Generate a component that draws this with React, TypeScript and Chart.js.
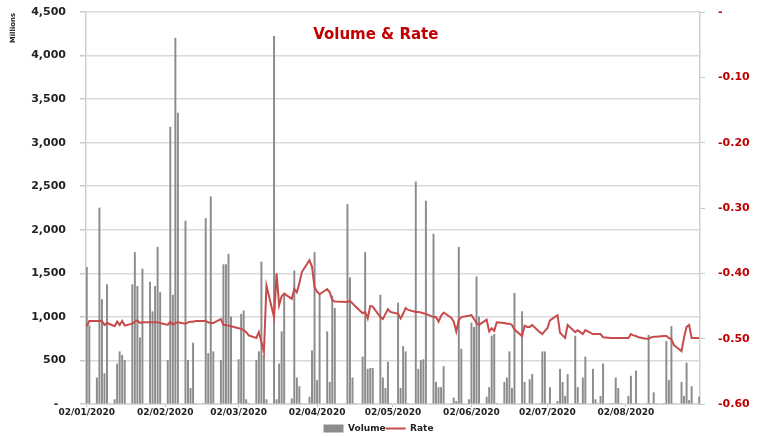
import React, { useEffect, useRef } from "react";
import { Chart, registerables } from "chart.js";

Chart.register(...registerables);

const YEAR = 2020;

const tradeDays = [
  "01-02","01-03","01-06","01-07","01-08","01-09","01-10","01-13","01-14","01-15","01-16","01-17","01-20","01-21","01-22","01-23","01-24","01-27","01-28","01-29","01-30","01-31",
  "02-03","02-04","02-05","02-06","02-07","02-10","02-11","02-12","02-13","02-14","02-17","02-18","02-19","02-20","02-21","02-24","02-25","02-26","02-27","02-28",
  "03-02","03-03","03-04","03-05","03-06","03-09","03-10","03-11","03-12","03-13","03-16","03-17","03-18","03-19","03-20","03-23","03-24","03-25","03-26","03-27","03-30","03-31",
  "04-01","04-02","04-03","04-06","04-07","04-08","04-09","04-14","04-15","04-16","04-17","04-20","04-21","04-22","04-23","04-24","04-27","04-28","04-29","04-30",
  "05-01","05-04","05-05","05-06","05-07","05-08","05-11","05-12","05-13","05-14","05-15","05-18","05-19","05-20","05-21","05-22","05-25","05-26","05-27","05-28","05-29",
  "06-01","06-02","06-03","06-04","06-05","06-08","06-09","06-10","06-11","06-12","06-15","06-16","06-17","06-18","06-19","06-22","06-23","06-24","06-25","06-26","06-29","06-30",
  "07-01","07-02","07-03","07-06","07-07","07-08","07-09","07-10","07-13","07-14","07-15","07-16","07-17","07-20","07-21","07-22","07-23","07-24","07-27","07-28","07-29","07-30","07-31",
  "08-03","08-04","08-05","08-06","08-07","08-10","08-11","08-12","08-13","08-14","08-17","08-18","08-19","08-20","08-21","08-24","08-25","08-26","08-27","08-28","08-31",
];

// Volume, millions
const volume = [
  1570,900,300,2250,1200,350,1370,50,460,600,560,500,1370,1740,1350,760,1550,1400,1060,1350,1800,1280,
  500,3180,1250,4200,3340,2100,500,180,700,0,0,2130,580,2380,600,500,1600,1600,1720,1000,
  510,1030,1070,50,0,500,600,1630,560,50,4220,50,460,830,1260,60,1530,300,200,0,80,610,
  1740,270,1250,830,250,1240,1100,2290,1450,300,0,540,1740,400,410,410,1250,300,180,480,
  0,1160,180,660,600,0,2550,400,500,510,2330,1950,250,190,190,430,0,70,30,1800,630,
  50,930,880,1460,1000,80,190,780,800,0,250,300,600,180,1270,1060,250,0,280,340,0,600,
  600,0,190,30,400,250,90,340,780,190,0,300,540,400,50,0,90,460,0,0,300,180,0,
  90,320,0,380,0,0,790,0,130,0,0,720,270,890,0,250,90,470,40,200,80,
];

// Rate
const rate = [
  -0.481,-0.473,-0.473,-0.473,-0.473,-0.479,-0.476,-0.481,-0.474,-0.479,-0.473,-0.480,-0.477,-0.474,-0.472,-0.476,-0.475,-0.475,-0.475,-0.475,-0.475,-0.476,
  -0.479,-0.474,-0.479,-0.476,-0.475,-0.477,-0.475,-0.474,-0.474,-0.473,-0.473,-0.473,-0.475,-0.476,-0.476,-0.470,-0.479,-0.479,-0.480,-0.481,
  -0.484,-0.485,-0.487,-0.490,-0.495,-0.499,-0.490,-0.505,-0.520,-0.419,-0.467,-0.400,-0.449,-0.435,-0.431,-0.439,-0.424,-0.429,-0.415,-0.398,-0.380,-0.390,
  -0.421,-0.428,-0.432,-0.424,-0.429,-0.441,-0.443,-0.444,-0.442,-0.446,-0.450,-0.461,-0.459,-0.469,-0.450,-0.451,-0.467,-0.470,-0.462,-0.455,
  -0.459,-0.462,-0.469,-0.462,-0.453,-0.456,-0.459,-0.459,-0.460,-0.461,-0.462,-0.467,-0.467,-0.474,-0.465,-0.460,-0.468,-0.474,-0.489,-0.471,-0.467,
  -0.465,-0.464,-0.470,-0.476,-0.479,-0.471,-0.489,-0.484,-0.488,-0.475,-0.476,-0.477,-0.477,-0.479,-0.486,-0.496,-0.480,-0.482,-0.482,-0.479,-0.490,-0.493,
  -0.488,-0.484,-0.472,-0.464,-0.491,-0.495,-0.499,-0.479,-0.490,-0.487,-0.490,-0.493,-0.487,-0.493,-0.493,-0.493,-0.493,-0.498,-0.499,-0.499,-0.499,-0.499,-0.499,
  -0.499,-0.493,-0.495,-0.496,-0.498,-0.500,-0.500,-0.498,-0.497,-0.497,-0.496,-0.496,-0.499,-0.501,-0.510,-0.519,-0.498,-0.482,-0.479,-0.499,-0.499,
];

const monthTickDays = ["01-02","02-02","03-02","04-02","05-02","06-02","07-02","08-02"];
const monthTickLabels = ["02/01/2020","02/02/2020","02/03/2020","02/04/2020","02/05/2020","02/06/2020","02/07/2020","02/08/2020"];
const firstDay = "01-02";
const lastDay = "08-31";

const FONT = "'DejaVu Sans', Verdana, sans-serif";
const RED = "#c00000";

const dayIndex = (md: string) => {
  const [m, d] = md.split("-").map(Number);
  const [m0, d0] = firstDay.split("-").map(Number);
  return Math.round((Date.UTC(YEAR, m - 1, d) - Date.UTC(YEAR, m0 - 1, d0)) / 86400000);
};

const overlayPlugin = {
  id: "overlayText",
  afterLayout(chart: any) {
    const lg = chart.legend;
    if (lg) {
      lg.top += 7;
      lg.bottom += 7;
    }
  },
  afterDraw(chart: any) {
    const { ctx, chartArea } = chart;
    ctx.save();
    ctx.fillStyle = RED;
    ctx.font = `bold 15px ${FONT}`;
    ctx.textAlign = "center";
    ctx.textBaseline = "middle";
    ctx.fillText("Volume & Rate", chartArea.left + chartArea.width * 0.472, chartArea.top + 23);
    ctx.translate(13, 28);
    ctx.rotate(-Math.PI / 2);
    ctx.fillStyle = "#222";
    ctx.font = `bold 7px ${FONT}`;
    ctx.fillText("Millions", 0, 0);
    ctx.restore();
  },
};

export default function App() {
  const ref = useRef<HTMLCanvasElement | null>(null);

  useEffect(() => {
    document.body.style.margin = "0";
    const canvas = ref.current;
    if (!canvas) return;
    const xs = tradeDays.map(dayIndex);
    const chart = new Chart(canvas, {
      type: "bar",
      data: {
        datasets: [
          {
            type: "bar",
            label: "Volume",
            data: xs.map((x, i) => ({ x, y: volume[i] })),
            backgroundColor: "#8c8c8c",
            borderWidth: 0,
            barThickness: 1.3,
            yAxisID: "y",
            order: 2,
            pointStyle: "rect",
          } as any,
          {
            type: "line",
            label: "Rate",
            data: xs.map((x, i) => ({ x, y: rate[i] })),
            borderColor: "#c84b4b",
            backgroundColor: "#c84b4b",
            borderWidth: 2,
            pointRadius: 0,
            tension: 0,
            yAxisID: "y1",
            order: 1,
            pointStyle: "line",
          } as any,
        ],
      },
      options: {
        responsive: true,
        maintainAspectRatio: false,
        animation: false,
        layout: { padding: { top: 12, left: 0, right: 0, bottom: 0 } },
        plugins: {
          tooltip: { enabled: false },
          title: { display: false },
          legend: {
            position: "bottom",
            labels: {
              usePointStyle: true,
              pointStyleWidth: 20,
              boxHeight: 8,
              padding: 0,
              color: "#222",
              font: { family: FONT, size: 9, weight: "bold" },
              sort: (a: any, b: any) => a.datasetIndex - b.datasetIndex,
            },
          },
        },
        scales: {
          x: {
            type: "linear",
            offset: false,
            min: dayIndex(firstDay) - 0.3,
            max: dayIndex(lastDay) + 0.3,
            grid: { display: true, offset: false, drawOnChartArea: false, tickLength: 3, color: "#bfbfbf" },
            border: { display: true, color: "#d9d9d9" },
            ticks: {
              autoSkip: false,
              maxRotation: 0,
              padding: 0,
              color: "#222",
              font: { family: FONT, size: 9, weight: "bold" },
              callback: (_v: any, i: number) => monthTickLabels[i],
            },
            afterBuildTicks: (s: any) => {
              s.ticks = monthTickDays.map((d) => ({ value: dayIndex(d) }));
            },
            afterFit: (s: any) => {
              s.height = 13;
            },
          },
          y: {
            position: "left",
            min: 0,
            max: 4500,
            ticks: {
              stepSize: 500,
              padding: 14,
              color: "#222",
              font: { family: FONT, size: 11, weight: "bold" },
              callback: (v: any) => (Number(v) === 0 ? "-  " : Number(v).toLocaleString("en-US")),
            },
            grid: { color: "#d9d9d9", lineWidth: 1.5, tickLength: 6, tickColor: "#c8c8c8" },
            border: { color: "#d0d0d0", width: 1.5 },
            afterFit: (s: any) => {
              s.width = 86;
              s.paddingTop = 6;
              s.paddingBottom = 6;
            },
          },
          y1: {
            position: "right",
            min: -0.6,
            max: 0,
            ticks: {
              stepSize: 0.1,
              padding: 13,
              color: RED,
              font: { family: FONT, size: 11, weight: "bold" },
              callback: (v: any) => (Math.abs(Number(v)) < 1e-9 ? "-" : Number(v).toFixed(2)),
            },
            grid: { drawOnChartArea: false, tickLength: 5, color: "#c8c8c8" },
            border: { color: "#d0d0d0", width: 1.5 },
            afterFit: (s: any) => {
              s.width = 57;
              s.paddingTop = 6;
              s.paddingBottom = 6;
            },
          },
        },
      },
      plugins: [overlayPlugin],
    } as any);
    return () => chart.destroy();
  }, []);

  return (
    <div style={{ position: "absolute", left: 0, top: 0, width: 757, height: 436 }}>
      <canvas ref={ref} />
    </div>
  );
}
